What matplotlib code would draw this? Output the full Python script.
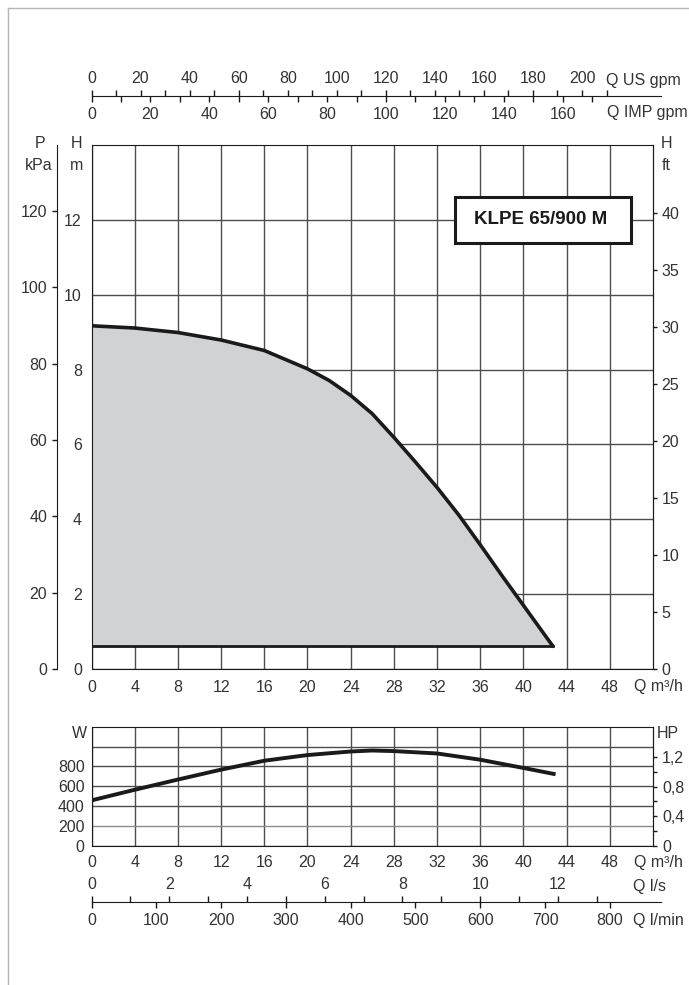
import matplotlib
matplotlib.use("Agg")
import matplotlib.pyplot as plt
from matplotlib.lines import Line2D
from matplotlib.patches import Rectangle

plt.rcParams['font.family'] = ['Liberation Sans', 'DejaVu Sans']
FS = 11.5
plt.rcParams['font.size'] = FS
TXT = '#333333'
INK = '#1a1a1a'
GRID = '#4d4d4d'

# head curve (Q m3/h, H m)
q_head = [0, 4, 8, 12, 16, 20, 22, 24, 26, 28, 30, 32, 34, 36, 38, 40, 42.7]
h_head = [9.17, 9.11, 8.99, 8.79, 8.51, 8.02, 7.71, 7.31, 6.82, 6.19, 5.53, 4.85, 4.12, 3.32, 2.5, 1.7, 0.62]

# power curve (Q m3/h, W)
q_pow = [0, 4, 8, 12, 16, 20, 24, 26, 28, 32, 36, 40, 42.8]
w_pow = [457, 564, 667, 767, 857, 914, 950, 960, 954, 930, 867, 784, 724]

model = 'KLPE 65/900 M'

q_ticks = list(range(0, 49, 4))
h_ticks = list(range(0, 13, 2))
kpa_ticks = list(range(0, 121, 20))
ft_ticks = list(range(0, 41, 5))
w_ticks = [0, 200, 400, 600, 800, 1000]
hp_ticks = [0, 0.2, 0.4, 0.6, 0.8, 1.0, 1.2]
usgpm_ticks = list(range(0, 211, 10))
impgpm_ticks = list(range(0, 171, 10))
ls_ticks = list(range(0, 14))
lmin_ticks = list(range(0, 801, 100))

QMAX = 52
W_, H_ = 689, 985
fig = plt.figure(figsize=(6.89, 9.85), dpi=100)


def px(x, y):
    return x / W_, 1 - y / H_


L, R = 91.5 / W_, 653 / W_
R_SCALE = 661 / W_                      # the unit scales run a bit further right
QMAX_S = QMAX * (R_SCALE - L) / (R - L)


def fig_text(x, y, s, ha='center'):
    fx, fy = px(x, y)
    fig.text(fx, fy, s, ha=ha, va='center', color=TXT, fontsize=FS)


# outer frame
fig.add_artist(Line2D([7.5 / W_, 7.5 / W_], [0, 1 - 7.5 / H_], transform=fig.transFigure,
                      color='#b5b5b5', lw=1))
fig.add_artist(Line2D([7.5 / W_, 1], [1 - 7.5 / H_, 1 - 7.5 / H_], transform=fig.transFigure,
                      color='#b5b5b5', lw=1))

# ---- main head chart ----
ax = fig.add_axes([L, 316 / H_, R - L, 524 / H_])
ax.set_xlim(0, QMAX)
ax.set_ylim(0, 14)
ax.set_xticks(q_ticks)
ax.set_yticks(h_ticks)
ax.grid(True, color=GRID, lw=1)
ax.set_axisbelow(True)
for s in ax.spines.values():
    s.set_color(INK)
ax.tick_params(axis='both', length=0, colors=TXT, labelsize=FS)
ax.tick_params(axis='x', pad=8)
ax.tick_params(axis='y', pad=7)

ax.fill_between(q_head, h_head, h_head[-1], color='#d1d2d4', zorder=1.5)
ax.plot(q_head, h_head, color=INK, lw=2.6, solid_joinstyle='round', zorder=3)
ax.plot([q_head[0], q_head[-1]], [h_head[-1], h_head[-1]], color=INK, lw=2.0, zorder=3)

ax.add_patch(Rectangle((33.7, 11.38), 16.3, 1.23, fc='white', ec=INK, lw=2.2, zorder=4))
ax.text(41.6, 12.0, model, ha='center', va='center', fontsize=13.5, fontweight='bold',
        color=INK, zorder=5)

# kPa axis on the left
sec_p = ax.secondary_yaxis(-0.0614, functions=(lambda h: h * 9.80665, lambda p: p / 9.80665))
sec_p.set_yticks(kpa_ticks)
sec_p.tick_params(length=3.6, width=1, color=INK, colors=TXT, pad=3.4, labelsize=FS)
sec_p.spines['left'].set_color(INK)

# ft axis on the right
sec_ft = ax.secondary_yaxis('right', functions=(lambda h: h * 3.28084, lambda f: f / 3.28084))
sec_ft.set_yticks(ft_ticks)
sec_ft.tick_params(length=3, width=1, color=INK, colors=TXT, pad=3, labelsize=FS)
sec_ft.spines['right'].set_color(INK)

fig_text(40, 144, 'P')
fig_text(39, 165, 'kPa')
fig_text(77, 144, 'H')
fig_text(77, 165, 'm')
fig_text(666, 144, 'H')
fig_text(666, 165, 'ft')
fig_text(683, 687, 'Q m³/h', ha='right')

# ---- gpm scales on top ----
axg = fig.add_axes([L, 1 - 95.7 / H_, R_SCALE - L, 0.00001])
axg.set_xlim(0, QMAX_S * 3.66615)
axg.set_xticks(impgpm_ticks)
axg.set_xticklabels([str(v) if v % 20 == 0 else '' for v in impgpm_ticks])
axg.set_yticks([])
for k in ['left', 'right', 'top']:
    axg.spines[k].set_visible(False)
axg.spines['bottom'].set_color(INK)
axg.tick_params(axis='x', length=4, width=1, color=INK, colors=TXT, pad=4, labelsize=FS)
axg2 = axg.twiny()
axg2.set_xlim(0, QMAX_S * 4.40287)
axg2.set_xticks(usgpm_ticks)
axg2.set_xticklabels([str(v) if v % 20 == 0 else '' for v in usgpm_ticks])
for k in ['left', 'right', 'top', 'bottom']:
    axg2.spines[k].set_visible(False)
axg2.tick_params(axis='x', length=4, width=1, color=INK, colors=TXT, pad=3, labelsize=FS)
fig_text(681, 80, 'Q US gpm', ha='right')
fig_text(688, 112, 'Q IMP gpm', ha='right')

# ---- power chart ----
axp = fig.add_axes([L, 139.3 / H_, R - L, 119 / H_])
axp.set_xlim(0, QMAX)
axp.set_ylim(0, 1200)
axp.set_xticks(q_ticks)
axp.set_yticks(w_ticks)
axp.set_yticklabels([str(v) if v <= 800 else '' for v in w_ticks])
axp.grid(True, color=GRID, lw=1)
axp.yaxis.get_gridlines()[1].set_color('#8a8a8a')
axp.set_axisbelow(True)
for s in axp.spines.values():
    s.set_color(INK)
axp.tick_params(axis='both', length=0, colors=TXT, labelsize=FS)
axp.tick_params(axis='x', pad=7)
axp.tick_params(axis='y', pad=5)
axp.plot(q_pow, w_pow, color=INK, lw=2.8, solid_joinstyle='round', zorder=3)

sec_hp = axp.secondary_yaxis('right', functions=(lambda w: w / 745.7, lambda hp: hp * 745.7))
sec_hp.set_yticks(hp_ticks)
sec_hp.set_yticklabels([('%.1f' % v).replace('.', ',') if round(v * 10) % 4 == 0 and v > 0
                        else ('0' if v == 0 else '') for v in hp_ticks])
sec_hp.tick_params(length=3, width=1, color=INK, colors=TXT, pad=3.5, labelsize=FS)
sec_hp.spines['right'].set_color(INK)

fig_text(79, 734, 'W')
fig_text(668, 734, 'HP')
fig_text(683, 862, 'Q m³/h', ha='right')

# ---- l/s and l/min scales ----
axf = fig.add_axes([L, 1 - 901.7 / H_, R_SCALE - L, 0.00001])
axf.set_xlim(0, QMAX_S / 0.06)
axf.set_xticks(lmin_ticks)
axf.set_yticks([])
for k in ['left', 'right', 'top']:
    axf.spines[k].set_visible(False)
axf.spines['bottom'].set_color(INK)
axf.tick_params(axis='x', length=4, width=1, color=INK, colors=TXT, pad=4, labelsize=FS)
axf2 = axf.twiny()
axf2.set_xlim(0, QMAX_S / 3.6)
axf2.set_xticks(ls_ticks)
axf2.set_xticklabels([str(v) if v % 2 == 0 else '' for v in ls_ticks])
for k in ['left', 'right', 'top', 'bottom']:
    axf2.spines[k].set_visible(False)
axf2.tick_params(axis='x', length=4, width=1, color=INK, colors=TXT, pad=3, labelsize=FS)
fig_text(666, 887, 'Q l/s', ha='right')
fig_text(684, 920, 'Q l/min', ha='right')

fig.savefig('out.png', dpi=100)
